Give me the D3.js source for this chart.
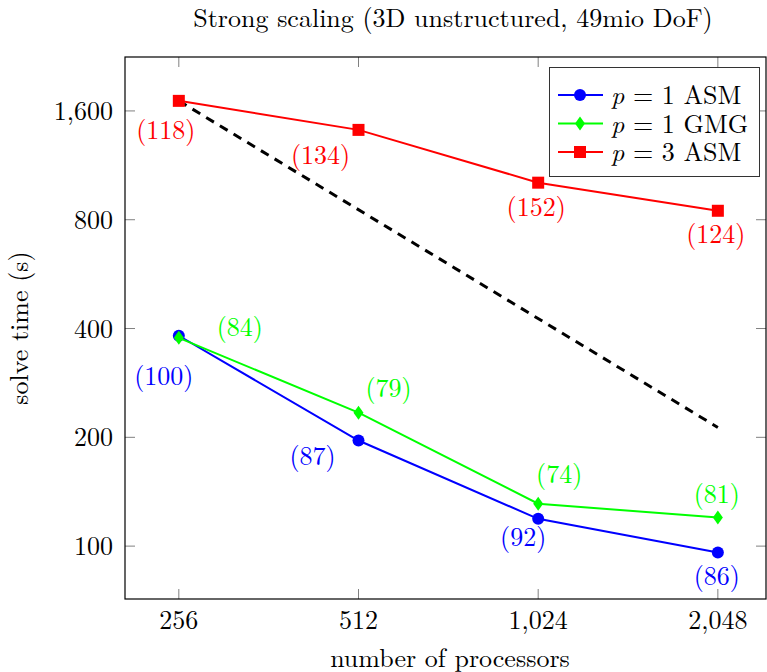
<!DOCTYPE html>
<html>
<head>
<meta charset="utf-8">
<script src="https://cdn.jsdelivr.net/npm/d3@7"></script>
<style>
  body { margin: 0; background: #fff; }
  text { font-family: "Latin Modern Roman", "CMU Serif", "DejaVu Serif", serif; }
</style>
</head>
<body>
<script>
// 数据
var procs = [256, 512, 1024, 2048];
var yTicks = [100, 200, 400, 800, 1600];
var asm1 = [382, 196, 119, 96];
var gmg1 = [377, 234, 131, 120];
var asm3 = [1706, 1418, 1013, 847];
var asm1Iter = ["(100)", "(87)", "(92)", "(86)"];
var gmg1Iter = ["(84)", "(79)", "(74)", "(81)"];
var asm3Iter = ["(118)", "(134)", "(152)", "(124)"];
var ideal = [1706, 213];  // 理想缩放 256 -> 2048

var W = 767, H = 672;
var pLeft = 125, pRight = 766, pTop = 57, pBottom = 599;
var fs = 26;  // 字号

var svg = d3.select("body").append("svg")
    .attr("width", W).attr("height", H);

var x = d3.scaleLog().base(2).domain([208, 2466]).range([pLeft, pRight]);
var y = d3.scaleLog().domain([71.4, 2256]).range([pBottom, pTop]);

// 刻度 (内向, 灰色)
var g = svg.append("g");
procs.forEach(function (p) {
    g.append("line").attr("x1", x(p)).attr("x2", x(p)).attr("y1", pBottom).attr("y2", pBottom - 10)
        .attr("stroke", "#808080");
    g.append("line").attr("x1", x(p)).attr("x2", x(p)).attr("y1", pTop).attr("y2", pTop + 10)
        .attr("stroke", "#808080");
    g.append("text").attr("x", x(p)).attr("y", 629).attr("text-anchor", "middle")
        .attr("font-size", fs).attr("fill", "#000").text(d3.format(",")(p));
});
yTicks.forEach(function (t) {
    g.append("line").attr("x1", pLeft).attr("x2", pLeft + 10).attr("y1", y(t)).attr("y2", y(t))
        .attr("stroke", "#808080");
    g.append("line").attr("x1", pRight).attr("x2", pRight - 10).attr("y1", y(t)).attr("y2", y(t))
        .attr("stroke", "#808080");
    g.append("text").attr("x", 113).attr("y", y(t) + 9).attr("text-anchor", "end")
        .attr("font-size", fs).attr("fill", "#000").text(d3.format(",")(t));
});

// 理想线
svg.append("line")
    .attr("x1", x(256)).attr("y1", y(ideal[0]))
    .attr("x2", x(2048)).attr("y2", y(ideal[1]))
    .attr("stroke", "#000").attr("stroke-width", 3).attr("stroke-dasharray", "9,7");

var line = d3.line().x(function (d, i) { return x(procs[i]); }).y(function (d) { return y(d); });

var series = [
    { name: "ASM1", vals: asm1, color: "#0000ff", sym: "circle", labs: asm1Iter,
      off: [[-15, 49], [-46, 25], [-15, 27], [-1, 32]] },
    { name: "GMG1", vals: gmg1, color: "#00ff00", sym: "diamond", labs: gmg1Iter,
      off: [[61, -2], [30, -16], [21, -21], [-1, -15]] },
    { name: "ASM3", vals: asm3, color: "#ff0000", sym: "square", labs: asm3Iter,
      off: [[-13, 38], [-38, 34], [-2, 33], [-2, 32]] }
];

function marker(sel, sym, color) {
    if (sym === "circle") {
        sel.append("circle").attr("r", 6).attr("fill", color);
    } else if (sym === "square") {
        sel.append("rect").attr("x", -6).attr("y", -6).attr("width", 12).attr("height", 12).attr("fill", color);
    } else {
        sel.append("path").attr("d", "M0,-7L5,0L0,7L-5,0Z").attr("fill", color);
    }
}

series.forEach(function (s) {
    svg.append("path").datum(s.vals).attr("d", line)
        .attr("fill", "none").attr("stroke", s.color).attr("stroke-width", 2);
    s.vals.forEach(function (v, i) {
        var m = svg.append("g").attr("transform", "translate(" + x(procs[i]) + "," + y(v) + ")");
        marker(m, s.sym, s.color);
        svg.append("text")
            .attr("x", x(procs[i]) + s.off[i][0]).attr("y", y(v) + s.off[i][1])
            .attr("text-anchor", "middle").attr("font-size", fs).attr("fill", s.color)
            .text(s.labs[i]);
    });
});

// 边框
svg.append("rect").attr("x", pLeft).attr("y", pTop).attr("width", pRight - pLeft).attr("height", pBottom - pTop)
    .attr("fill", "none").attr("stroke", "#000").attr("stroke-width", 1.2);

// 图例
var leg = svg.append("g");
leg.append("rect").attr("x", 549.5).attr("y", 67.5).attr("width", 210).attr("height", 109)
    .attr("fill", "#fff").attr("stroke", "#333").attr("stroke-width", 1);
var legNames = [["p", " = 1 ASM"], ["p", " = 1 GMG"], ["p", " = 3 ASM"]];
series.forEach(function (s, i) {
    var ly = 95 + i * 28.5;
    leg.append("line").attr("x1", 558).attr("x2", 603).attr("y1", ly).attr("y2", ly)
        .attr("stroke", s.color).attr("stroke-width", 2);
    var m = leg.append("g").attr("transform", "translate(580," + ly + ")");
    marker(m, s.sym, s.color);
    var t = leg.append("text").attr("x", 611).attr("y", ly + 9).attr("font-size", fs).attr("fill", "#000");
    t.append("tspan").attr("font-style", "italic").text(legNames[i][0]);
    t.append("tspan").text(legNames[i][1]);
});

// 标题和轴标签
svg.append("text").attr("x", 453).attr("y", 27).attr("text-anchor", "middle")
    .attr("font-size", fs).text("Strong scaling (3D unstructured, 49mio DoF)");
svg.append("text").attr("x", 450).attr("y", 667).attr("text-anchor", "middle")
    .attr("font-size", fs).text("number of processors");
svg.append("text").attr("transform", "translate(28,328) rotate(-90)").attr("text-anchor", "middle")
    .attr("font-size", fs).text("solve time (s)");
</script>
</body>
</html>
